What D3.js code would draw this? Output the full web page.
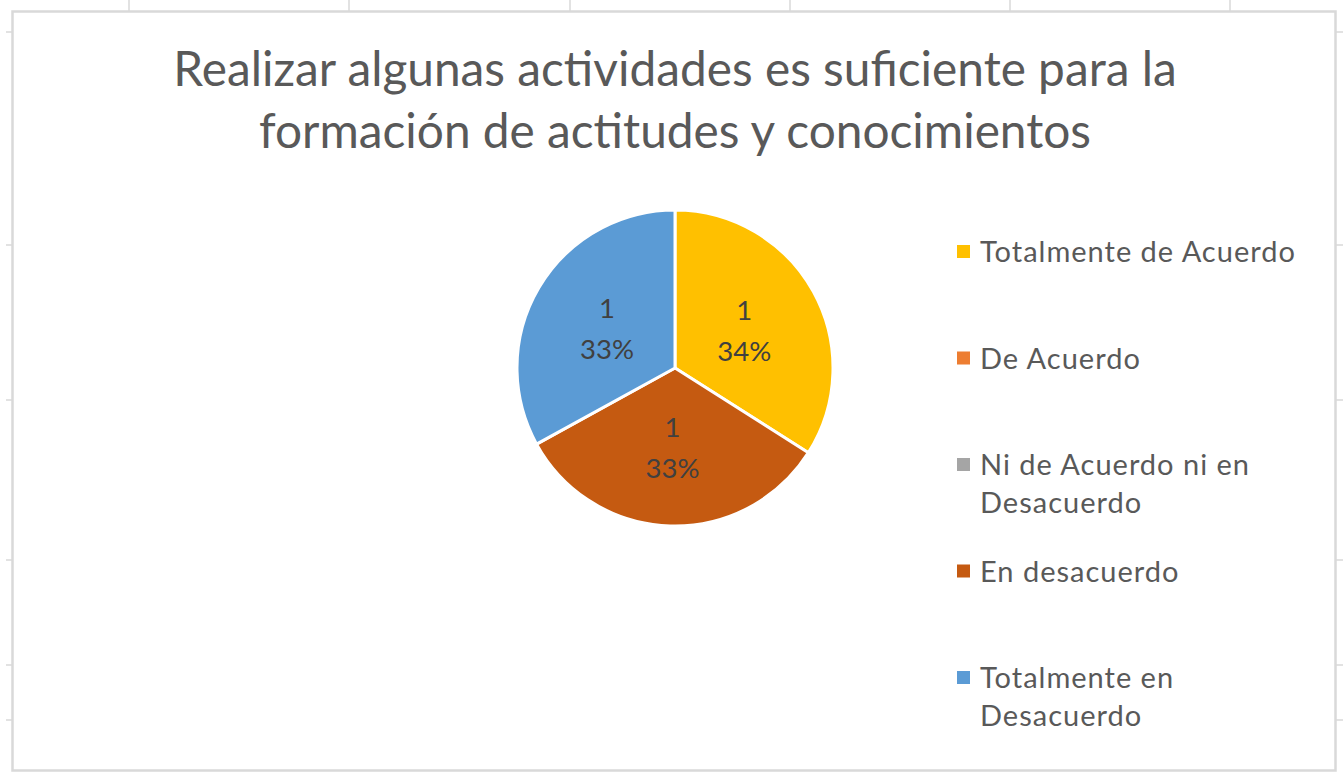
<!DOCTYPE html>
<html>
<head>
<meta charset="utf-8">
<script src="https://cdn.jsdelivr.net/npm/d3@7"></script>
<style>
	body { margin: 0; background: #fff; }
	svg { display: block; }
</style>
</head>
<body>
<div id="chart"></div>
<script>
// data
var categories = ["Totalmente de Acuerdo", "De Acuerdo", "Ni de Acuerdo ni en Desacuerdo", "En desacuerdo", "Totalmente en Desacuerdo"];
var counts = [1, 0, 0, 1, 1];
var shares = [34, 0, 0, 33, 33];
var colors = ["#FFC000", "#ED7D31", "#A5A5A5", "#C55A11", "#5B9BD5"];
var legendLines = [["Totalmente de Acuerdo"], ["De Acuerdo"], ["Ni de Acuerdo ni en", "Desacuerdo"], ["En desacuerdo"], ["Totalmente en", "Desacuerdo"]];
var titleLines = ["Realizar algunas actividades es suficiente para la", "formación de actitudes y conocimientos"];

// spreadsheet cell gridline stubs around the chart
var colTicks = [129, 349, 570, 790, 1010, 1230];
var rowTicks = [32, 245, 400, 560, 665, 720];

var width = 1343, height = 774;
var font = "Lato, 'Open Sans', sans-serif";

var svg = d3.select("#chart")
	.append("svg")
	.attr("width", width)
	.attr("height", height);

//grid stubs
svg.selectAll("line.col")
	.data(colTicks)
	.enter()
	.append("line")
	.attr("x1", function(d) { return d; })
	.attr("x2", function(d) { return d; })
	.attr("y1", 0)
	.attr("y2", 11)
	.attr("stroke", "#d9d9d9")
	.attr("stroke-width", 1.5);

svg.selectAll("line.rowL")
	.data(rowTicks)
	.enter()
	.append("line")
	.attr("x1", 6)
	.attr("x2", 12)
	.attr("y1", function(d) { return d; })
	.attr("y2", function(d) { return d; })
	.attr("stroke", "#d9d9d9")
	.attr("stroke-width", 1.5);

svg.selectAll("line.rowR")
	.data(rowTicks)
	.enter()
	.append("line")
	.attr("x1", 1336)
	.attr("x2", 1343)
	.attr("y1", function(d) { return d; })
	.attr("y2", function(d) { return d; })
	.attr("stroke", "#d9d9d9")
	.attr("stroke-width", 1.5);

//chart border
svg.append("rect")
	.attr("x", 12.5)
	.attr("y", 11.5)
	.attr("width", 1323)
	.attr("height", 759)
	.attr("fill", "#fff")
	.attr("stroke", "#d9d9d9")
	.attr("stroke-width", 2.5);

//title
svg.append("text")
	.attr("text-anchor", "middle")
	.attr("font-family", font)
	.attr("font-size", 47.8)
	.attr("fill", "#595959")
	.selectAll("tspan")
	.data(titleLines)
	.enter()
	.append("tspan")
	.attr("x", 675)
	.attr("y", function(d, i) { return 86 + i * 62; })
	.text(function(d) { return d; });

//pie
var cx = 675, cy = 368, r = 158;
var pie = d3.pie().sort(null).value(function(d) { return d; });
var arc = d3.arc().innerRadius(0).outerRadius(r);
var arcs = pie(shares);

var g = svg.append("g").attr("transform", "translate(" + cx + "," + cy + ")");

g.selectAll("path")
	.data(arcs)
	.enter()
	.append("path")
	.filter(function(d) { return d.value > 0; })
	.attr("d", arc)
	.attr("fill", function(d, i) { return colors[d.index]; })
	.attr("stroke", "#fff")
	.attr("stroke-width", 3)
	.attr("stroke-linejoin", "round");

//data labels
var labels = g.selectAll("text")
	.data(arcs.filter(function(d) { return d.value > 0; }))
	.enter()
	.append("text")
	.attr("text-anchor", "middle")
	.attr("font-family", font)
	.attr("font-size", 27.5)
	.attr("fill", "#404040")
	.attr("transform", function(d) {
		var c = arc.centroid(d);
		return "translate(" + c[0] + "," + c[1] + ")";
	});

labels.append("tspan")
	.attr("x", 0)
	.attr("y", -10)
	.text(function(d) { return counts[d.index]; });

labels.append("tspan")
	.attr("x", 0)
	.attr("y", 31)
	.text(function(d) { return d.value + "%"; });

//legend
var legend = svg.selectAll("g.legend")
	.data(categories)
	.enter()
	.append("g")
	.attr("class", "legend")
	.attr("transform", function(d, i) { return "translate(957," + (252 + i * 106.5) + ")"; });

legend.append("rect")
	.attr("x", 0)
	.attr("y", -7)
	.attr("width", 13)
	.attr("height", 13)
	.attr("fill", function(d, i) { return colors[i]; });

legend.append("text")
	.attr("font-family", font)
	.attr("font-size", 29)
	.attr("letter-spacing", 1)
	.attr("fill", "#595959")
	.selectAll("tspan")
	.data(function(d, i) { return legendLines[i]; })
	.enter()
	.append("tspan")
	.attr("x", 23)
	.attr("y", function(d, i) { return 10 + i * 38; })
	.text(function(d) { return d; });
</script>
</body>
</html>
